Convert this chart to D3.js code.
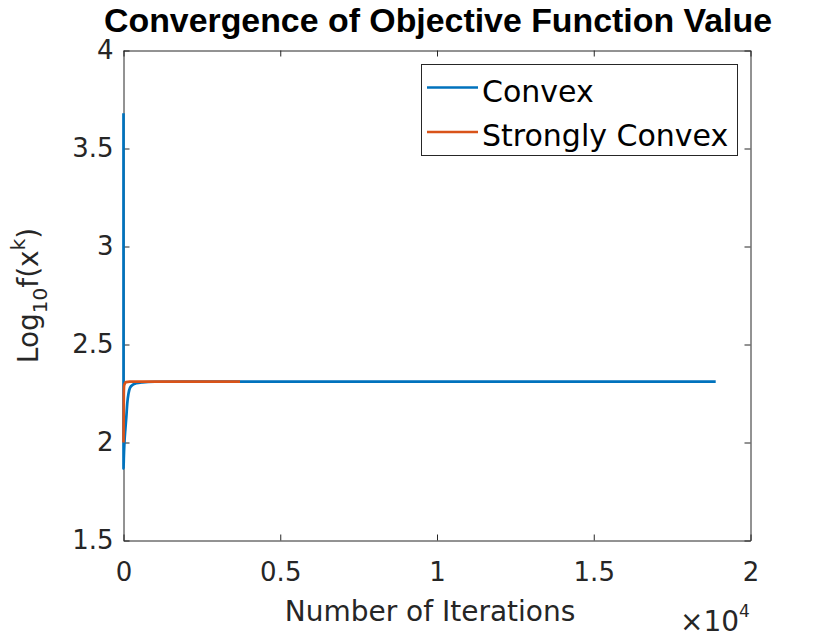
<!DOCTYPE html>
<html>
<head>
<meta charset="utf-8">
<script src="https://cdn.jsdelivr.net/npm/d3@7/dist/d3.min.js"></script>
<style>
  html, body { margin: 0; padding: 0; background: #fff; }
  svg { display: block; font-family: "DejaVu Sans", sans-serif; }
</style>
</head>
<body>
<svg id="chart" width="830" height="638"></svg>
<script>
// ---- data (iterations, log10 f(x^k)) ----
const convexIter = [0, 1, 10, 30, 60, 90, 120, 160, 210, 300, 400, 600, 1000, 2000, 18890];
const convexVal  = [3.68, 1.867, 1.92, 2.00, 2.07, 2.13, 2.20, 2.25, 2.28, 2.295, 2.302, 2.307, 2.310, 2.311, 2.311];
const strongIter = [0, 10, 20, 40, 80, 200, 3716];
const strongVal  = [2.0, 2.25, 2.29, 2.30, 2.308, 2.311, 2.311];
const seriesNames = ["Convex", "Strongly Convex"];
const xTicks = [0, 5000, 10000, 15000, 20000];
const xTickLabels = ["0", "0.5", "1", "1.5", "2"];
const yTicks = [1.5, 2, 2.5, 3, 3.5, 4];
const yTickLabels = ["1.5", "2", "2.5", "3", "3.5", "4"];

const colors = ["#0072BD", "#D95319"];
const textColor = "#262626";

const svg = d3.select("#chart");
const L = 123.5, R = 750.5, T = 50.5, B = 540.5;

const x = d3.scaleLinear().domain([0, 20000]).range([L, R]);
const y = d3.scaleLinear().domain([1.5, 4]).range([B, T]);

const series = [
  convexIter.map((k, i) => [k, convexVal[i]]),
  strongIter.map((k, i) => [k, strongVal[i]])
];

// axes (ticks inward, on all four sides)
const tickLen = 6;
const axB = d3.axisBottom(x).tickValues(xTicks).tickFormat((d, i) => xTickLabels[i]).tickSizeInner(-tickLen).tickSizeOuter(0);
const axT = d3.axisTop(x).tickValues(xTicks).tickFormat("").tickSizeInner(-tickLen).tickSizeOuter(0);
const axL = d3.axisLeft(y).tickValues(yTicks).tickFormat((d, i) => yTickLabels[i]).tickSizeInner(-tickLen).tickSizeOuter(0).tickPadding(10);
const axR = d3.axisRight(y).tickValues(yTicks).tickFormat("").tickSizeInner(-tickLen).tickSizeOuter(0);

function style(sel) {
  sel.selectAll("path").attr("stroke", textColor).attr("stroke-width", 1);
  sel.selectAll("line").attr("stroke", textColor).attr("stroke-width", 1);
  sel.selectAll("text").attr("fill", textColor).style("font-size", "26px")
    .style("font-family", "DejaVu Sans, sans-serif");
}
svg.append("g").attr("transform", `translate(0,${B})`).call(axB).call(style)
  .selectAll("text").attr("y", 40).attr("dy", 0);
svg.append("g").attr("transform", `translate(0,${T})`).call(axT).call(style);
svg.append("g").attr("transform", `translate(${L},0)`).call(axL).call(style);
svg.append("g").attr("transform", `translate(${R},0)`).call(axR).call(style);

// lines
const line = d3.line().x(d => x(d[0])).y(d => y(d[1])).curve(d3.curveMonotoneX);
const g = svg.append("g");
series.forEach((s, i) => {
  g.append("path").datum(s)
    .attr("d", line)
    .attr("fill", "none")
    .attr("stroke", colors[i])
    .attr("stroke-width", 2.7)
    .attr("stroke-linejoin", "round");
});

// exponent label
const ex = svg.append("text").attr("x", 680).attr("y", 631).attr("fill", textColor)
  .style("font-size", "28px");
ex.append("tspan").text("\u00D710");
ex.append("tspan").attr("dy", -14).style("font-size", "17px").text("4");

// title
svg.append("text").attr("x", 438).attr("y", 32).attr("text-anchor", "middle")
  .style("font-size", "33px").style("font-weight", "bold")
  .style("font-family", "Liberation Sans, Arial, sans-serif")
  .attr("textLength", 668).attr("lengthAdjust", "spacingAndGlyphs")
  .attr("fill", "#000")
  .text("Convergence of Objective Function Value");

// x label
svg.append("text").attr("x", 430).attr("y", 621).attr("text-anchor", "middle")
  .style("font-size", "28px").attr("fill", textColor).text("Number of Iterations");

// y label
const yl = svg.append("text").attr("transform", `translate(38,${(T + B) / 2}) rotate(-90)`)
  .attr("text-anchor", "middle").style("font-size", "28px").attr("fill", textColor);
yl.append("tspan").text("Log");
yl.append("tspan").attr("dy", 9).style("font-size", "20px").text("10");
yl.append("tspan").attr("dy", -9).text("f(x");
yl.append("tspan").attr("dy", -13).style("font-size", "20px").text("k");
yl.append("tspan").attr("dy", 13).text(")");

// legend
const lg = svg.append("g");
lg.append("rect").attr("x", 421.5).attr("y", 64.5).attr("width", 316).attr("height", 91)
  .attr("fill", "#fff").attr("stroke", textColor).attr("stroke-width", 1);
seriesNames.forEach((name, i) => {
  const yy = 87.5 + i * 44.5;
  lg.append("line").attr("x1", 427).attr("x2", 478).attr("y1", yy).attr("y2", yy)
    .attr("stroke", colors[i]).attr("stroke-width", 2.5);
  lg.append("text").attr("x", 482).attr("y", yy + 14).style("font-size", "30px")
    .attr("fill", "#000").text(name);
});
</script>
</body>
</html>
